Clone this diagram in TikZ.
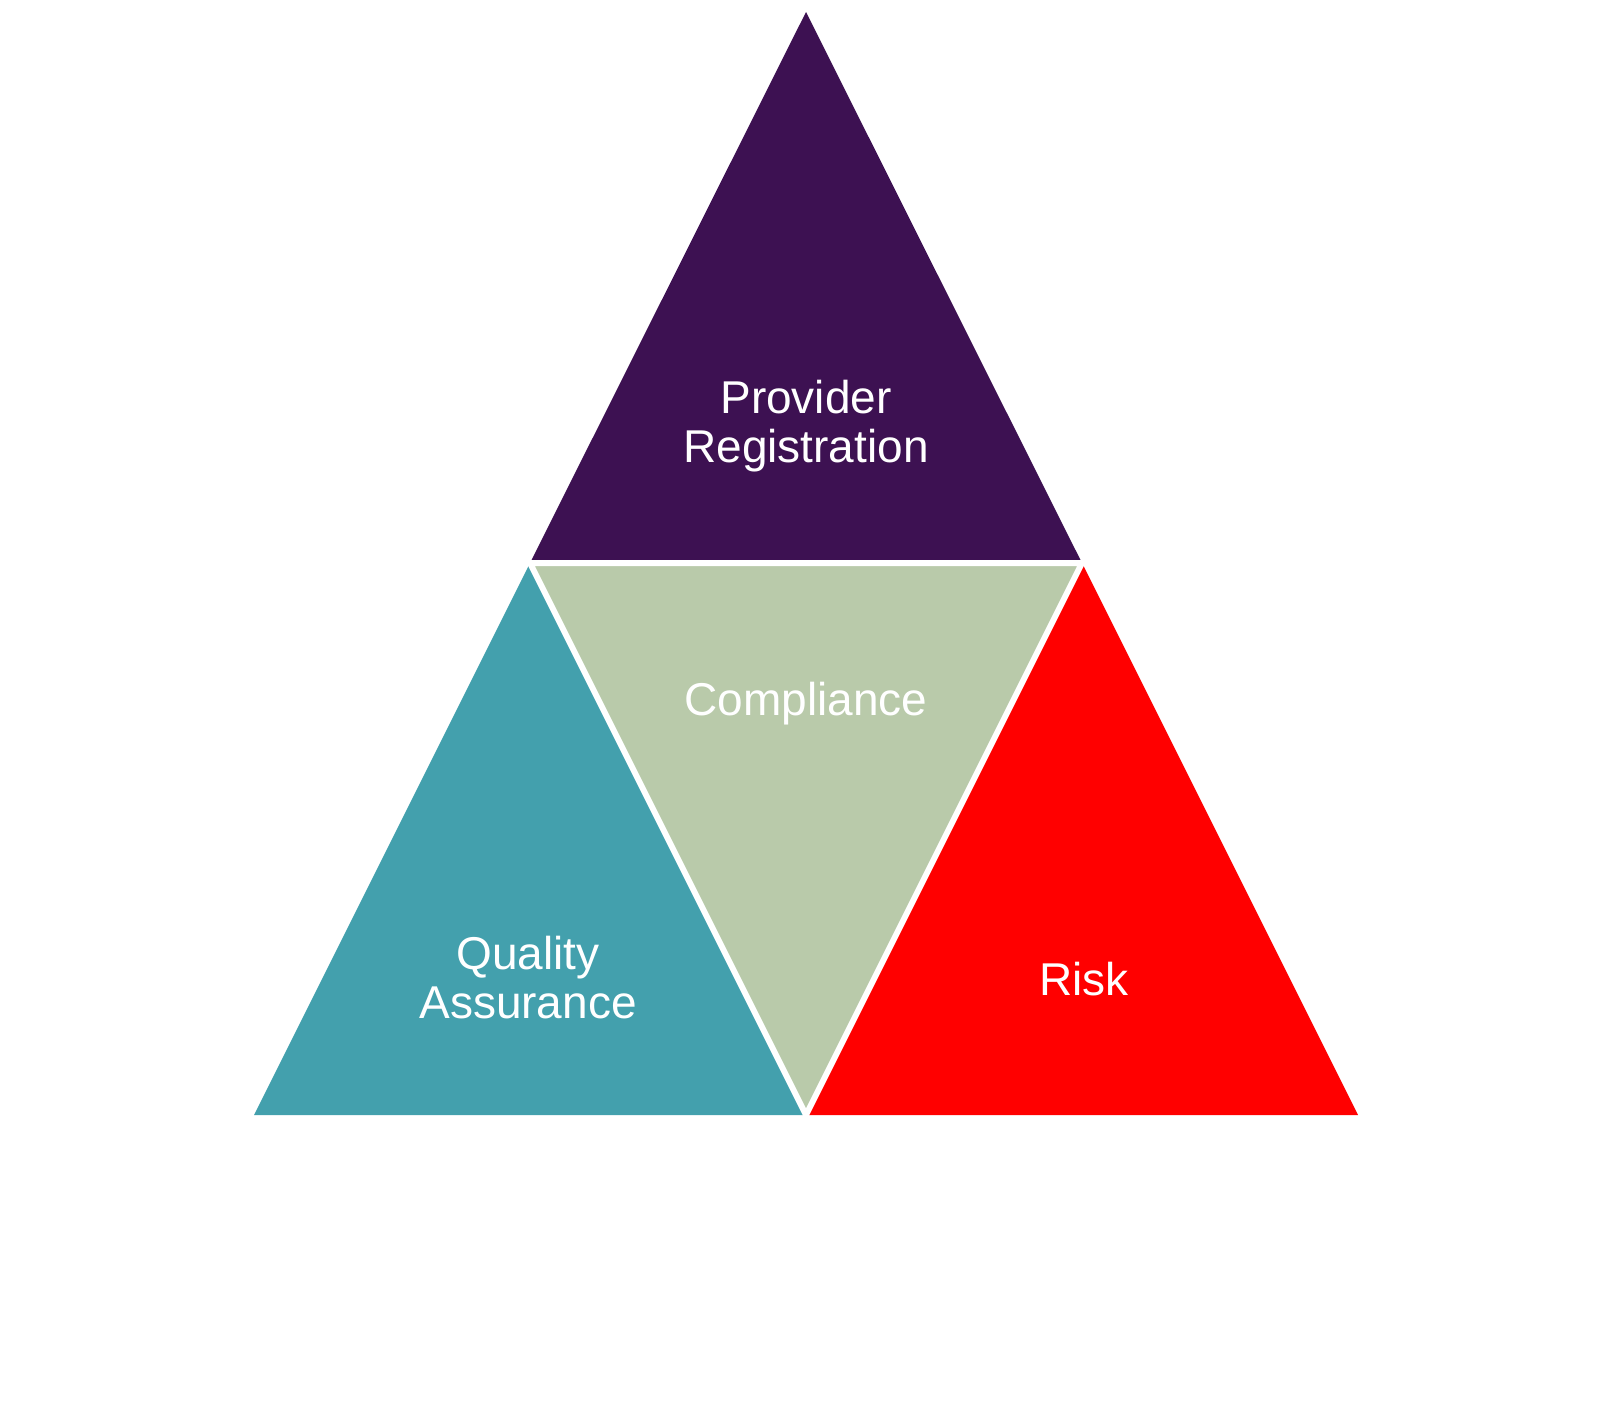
\documentclass[tikz,border=0pt]{standalone}
\usepackage{fontspec}
\setmainfont{Liberation Sans}
\definecolor{cpurple}{HTML}{3D1152}
\definecolor{cteal}{HTML}{43A0AD}
\definecolor{cgreen}{HTML}{B9CAAA}
\definecolor{cred}{HTML}{FF0000}
\begin{document}
\begin{tikzpicture}[x=1pt,y=-1pt,
  lbl/.style={text=white,align=center,font=\fontsize{46}{49}\selectfont},
  gap/.style={draw=white,line width=6pt,line join=miter}]
\useasboundingbox (0,0) rectangle (1600,1400);
\coordinate (A) at (806,12);
\coordinate (B) at (254,1115);
\coordinate (C) at (1358,1115);
\coordinate (L) at (530,563);
\coordinate (R) at (1082,563);
\coordinate (M) at (806,1115);
\fill[cpurple] (A) -- (L) -- (R) -- cycle;
\fill[cteal] (L) -- (B) -- (M) -- cycle;
\fill[cred] (R) -- (M) -- (C) -- cycle;
\fill[cgreen] (L) -- (R) -- (M) -- cycle;
\draw[gap] (L) -- (R) -- (M) -- cycle;
\node[lbl] (prov) at (806,426) {Provider\\Registration};
\node[lbl] (comp) at (806,704) {Compliance};
\node[lbl] (qa) at (528,978) {Quality\\Assurance};
\node[lbl] (risk) at (1084,979) {Risk};
\end{tikzpicture}
\end{document}
